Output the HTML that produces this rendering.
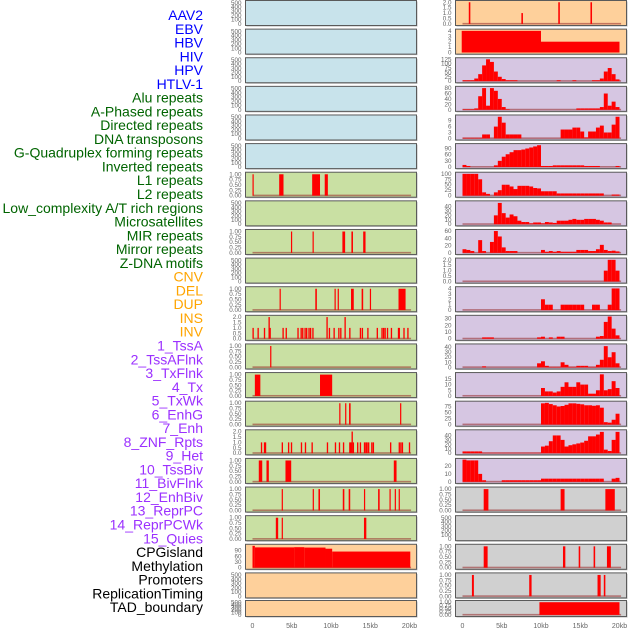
<!DOCTYPE html>
<html><head><meta charset="utf-8">
<style>
html,body{margin:0;padding:0;background:#fff;width:630px;height:630px;overflow:hidden}
svg{display:block;font-family:"Liberation Sans",sans-serif}
</style></head>
<body>
<svg id="chart" width="630" height="630" viewBox="0 0 630 630"></svg>
<script>
// ---------- Track labels ----------
const trackLabels = ["AAV2","EBV","HBV","HIV","HPV","HTLV-1","Alu repeats","A-Phased repeats","Directed repeats","DNA transposons","G-Quadruplex forming repeats","Inverted repeats","L1 repeats","L2 repeats","Low_complexity A/T rich regions","Microsatellites","MIR repeats","Mirror repeats","Z-DNA motifs","CNV","DEL","DUP","INS","INV","1_TssA","2_TssAFlnk","3_TxFlnk","4_Tx","5_TxWk","6_EnhG","7_Enh","8_ZNF_Rpts","9_Het","10_TssBiv","11_BivFlnk","12_EnhBiv","13_ReprPC","14_ReprPCWk","15_Quies","CPGisland","Methylation","Promoters","ReplicationTiming","TAD_boundary"];
const labelGroups = [6,13,5,15,5]; // blue, green, orange, purple, black
const groupColors = ["#0000ff","#006400","#ffa500","#9b30ff","#000000"];

// ---------- X axis ----------
const xTicks = [0,5,10,15,20];
const xTickLabels = ["0","5kb","10kb","15kb","20kb"];

// ---------- Tick label sets ----------
const ticksEmpty = ["0","100","200","300","400","500"];
const ticksBinary = ["0.00","0.25","0.50","0.75","1.00"];
const ticksTwo = ["0.0","0.5","1.0","1.5","2.0"];
const ticksFour = ["0","1","2","3","4"];

// ---------- Left column segment data [startKb, endKb, value] ----------
const leftL1 = [[0.0,0.15,1],[3.4,3.95,1],[7.6,8.6,1],[9.2,9.6,1]];
const leftRow8 = [[4.9,5.05,1],[7.65,7.8,1],[11.45,11.8,1],[12.6,12.8,1],[14.1,14.4,1]];
const leftRow10 = [[3.45,3.6,1],[8.0,8.2,1],[10.45,10.6,1],[10.85,11.0,1],[12.55,12.9,1],[13.9,14.1,1],[14.95,15.1,1],[18.6,19.5,1]];
const leftRow11Pos = [0.08,0.72,1.53,2.12,2.25,3.9,4.3,5.8,6.2,6.4,6.7,6.9,7.2,7.4,7.7,9.5,9.8,10.4,11.0,11.25,11.8,12.4,13.75,14.0,14.7,15.9,16.5,16.7,16.9,17.2,17.7,18.6,18.7,19.3,19.8];
const leftRow11Val = [1,1,1,2,1,1,1,1,1,1,1,1,1,1,1,2,1,1,1,1,2,1,1,1,1,1,1,1,1,1,1,1,1,1,1];
const leftRow12 = [[2.25,2.4,1]];
const leftRow13 = [[0.3,1.0,1],[8.6,10.15,1]];
const leftRow14 = [[11.05,11.2,1],[11.8,11.95,1],[12.3,12.5,1],[18.8,18.95,1]];
const leftRow15Pos = [1.15,1.53,1.66,3.8,4.6,4.97,6.24,6.75,7.6,9.55,10.57,11.08,11.6,12.4,12.55,12.7,12.85,13.4,13.75,14.27,14.45,14.6,14.8,15.2,15.4,17.6,18.7,18.9,19.1,20.0];
const leftRow15Val = [1,1,1,1,1,1,1,1,1,1,1,1,1,1,1,2,1,1,1,1,1,1,1,1,1,1,1,1,1,1];
const leftRow16 = [[0.8,1.24,1],[1.78,2.08,1],[4.2,4.93,1],[18.0,18.35,1]];
const leftRow17 = [[3.72,3.85,1],[7.67,7.8,1],[8.4,8.6,1],[11.5,11.7,1],[12.25,12.45,1],[14.2,14.35,1],[16.0,16.2,1],[17.45,17.6,1],[18.12,18.27,1],[18.62,18.77,1]];
const leftRow18 = [[2.97,3.27,1],[3.72,3.85,1],[14.2,14.5,1]];
const cpgSegments = [[0,0.3,115],[0.3,5.3,107],[5.3,6.6,108],[6.6,9.3,106],[9.3,10.15,100],[10.15,20.1,85]];

// ---------- Right column binned data (0.5kb bins from 0 to 20kb) ----------
const hivBins = [5,5,5,15,40,90,125,110,55,25,12,5,5,5,0,0,0,0,0,0,0,0,0,0,5,0,0,0,5,0,0,0,0,5,5,15,55,75,40,10];
const aluBins = [2,2,2,5,50,80,15,80,70,40,10,2,0,0,0,0,0,0,0,0,0,0,0,0,0,0,0,0,0,5,5,5,5,5,5,10,60,15,30,10];
const aphasedBins = [0.3,0.3,0.3,0.3,0.3,2,2,0,6,11,8,2,2,2,2,0,0,0,0,0,0,0,0,0,0,4.5,4.5,4.5,5.5,5.5,3.5,0.5,3.5,3.5,5.5,6.5,3,3,7,11];
const directedBins = [10,5,0,0,0,0,0,0,8,30,50,62,72,82,82,85,90,95,100,106,5,5,5,8,8,8,8,8,8,8,8,5,5,5,5,0,0,0,0,5];
const dnaBins = [100,100,100,100,75,15,8,0,15,25,50,50,42,30,45,45,45,42,35,33,20,20,20,20,10,10,10,10,10,10,10,10,10,10,10,10,0,0,5,5];
const gquadBins = [0,0,0,0,0,0,0,0,20,48,25,15,22,18,8,5,5,2,4,4,2,5,4,3,8,8,8,10,12,10,10,12,12,12,10,8,4,4,0,0];
const invertedBins = [10,8,5,0,35,5,0,30,60,45,15,5,5,5,0,0,0,0,0,0,8,3,5,3,5,3,3,3,3,8,8,8,5,5,10,22,8,5,6,4];
const l1Bins = [0,0,0,0,0,0,0,0,0,0,0,0,0,0,0,0,0,0,0,0,0,0,0,0,0,0,0,0,0,0,0,0,0,0,0,0,1,2,2,1];
const l2Bins = [0,0,0,0,0,0,0,0,0,0,0,0,0,0,0,0,0,0,0,0,2,1,1,0,0,1,1,1,1,1,1,0,0,1,1,0,0,1,4,4];
const lowBins = [0,0,0,0,0,2,2,2,0,0,0,0,0,0,0,0,0,0,0,2,3,0,2,0,3,3,0,0,0,0,0,0,0,0,3,4,25,33,15,5];
const microBins = [0,0,0,0,0,2,0,0,0,0,0,0,0,0,0,0,0,0,0,8,12,3,1,1,1,10,5,1,1,3,3,3,1,1,5,15,42,20,30,8];
const mirBins = [0,0,0,0,0,0,0,0,0,0,0,0,0,0,0,0,0,0,0,0,7,4,4,3,4,8,12,8,8,12,10,10,2,2,5,19,5,6,13,7];
const mirrorBins = [0,0,0,0,0,0,0,0,0,0,0,0,0,0,0,0,0,0,0,0,88,90,85,80,75,77,82,88,88,86,84,80,80,78,80,70,10,8,20,45];
const zdnaBins = [4,4,4,4,4,1,1,1,1,1,1,1,1,1,1,1,1,1,1,1,15,17,27,40,40,30,15,18,20,22,24,28,38,38,42,48,8,5,30,48];
const cnvBins = [28,27,27,27,10,2,0,0,0,0,2,2,2,2,2,2,2,2,2,2,4,4,4,4,4,4,4,4,4,4,4,4,4,4,4,4,0,0,4,5];

// ---------- Right column segment data ----------
const aav2Pos = [0.9,7.6,12.3,16.4];
const aav2Val = [2,1,2,2];
const ebvSegments = [[-0.1,10.0,4],[10.0,20.0,2]];
const rightRow17 = [[2.7,3.3,1],[12.5,13.0,1],[18.2,19.4,1]];
const rightRow19 = [[2.7,3.2,1],[12.8,13.1,1],[14.8,15.0,1],[16.7,16.9,1],[18.4,18.9,1]];
const rightRow20 = [[1.2,1.45,1],[8.5,8.8,1],[17.2,17.6,1],[18.0,18.2,1]];
const tadSegments = [[9.8,20.0,1]];

// ---------- Layout ----------
const BLUE="#c8e3eb", GREEN="#c9e0a3", ORANGE="#fed09b", PURPLE="#d6c6e2", GRAY="#d0d0d0";
const svg = document.getElementById('chart');
const NS = "http://www.w3.org/2000/svg";
function mk(tag, attrs){const e=document.createElementNS(NS,tag);for(const k in attrs)e.setAttribute(k,attrs[k]);return e;}

function rowTop(i){return i<21?0.5+28.62*i:600.5;}
function rowH(i){return i<21?25:16;}
const colX=[245.5,455.5], colW=171;
function xScale(col,kb){return colX[col]+7+kb*7.85;}
function yScale(row,max,v){const t=rowTop(row)+1.2,b=rowTop(row)+rowH(row)-1.6;return b-(v/max)*(b-t);}

function pointsToSeg(pos,val,w){return pos.map((p,i)=>[p-w/2,p+w/2,val[i]]);}
function binsToSeg(bins){return bins.map((v,i)=>[i*0.5,i*0.5+0.5,v]);}

const panels = [
 // left column
 {c:0,r:0,bg:BLUE,t:ticksEmpty,max:525,name:"aav2-left"},
 {c:0,r:1,bg:BLUE,t:ticksEmpty,max:525,name:"ebv-left"},
 {c:0,r:2,bg:BLUE,t:ticksEmpty,max:525,name:"hbv-left"},
 {c:0,r:3,bg:BLUE,t:ticksEmpty,max:525,name:"hiv-left"},
 {c:0,r:4,bg:BLUE,t:ticksEmpty,max:525,name:"hpv-left"},
 {c:0,r:5,bg:BLUE,t:ticksEmpty,max:525,name:"htlv-left"},
 {c:0,r:6,bg:GREEN,t:ticksBinary,max:1.04,seg:leftL1,name:"alu-left"},
 {c:0,r:7,bg:GREEN,t:ticksEmpty,max:525,name:"aphased-left"},
 {c:0,r:8,bg:GREEN,t:ticksBinary,max:1.04,seg:leftRow8,name:"directed-left"},
 {c:0,r:9,bg:GREEN,t:ticksEmpty,max:525,name:"dna-left"},
 {c:0,r:10,bg:GREEN,t:ticksBinary,max:1.04,seg:leftRow10,name:"gquad-left"},
 {c:0,r:11,bg:GREEN,t:ticksTwo,max:2.05,seg:pointsToSeg(leftRow11Pos,leftRow11Val,0.17),name:"inverted-left"},
 {c:0,r:12,bg:GREEN,t:ticksBinary,max:1.04,seg:leftRow12,name:"l1-left"},
 {c:0,r:13,bg:GREEN,t:ticksBinary,max:1.04,seg:leftRow13,name:"l2-left"},
 {c:0,r:14,bg:GREEN,t:ticksBinary,max:1.04,seg:leftRow14,name:"lowcomplex-left"},
 {c:0,r:15,bg:GREEN,t:ticksTwo,max:2.05,seg:pointsToSeg(leftRow15Pos,leftRow15Val,0.17),name:"microsat-left"},
 {c:0,r:16,bg:GREEN,t:ticksBinary,max:1.04,seg:leftRow16,name:"mir-left"},
 {c:0,r:17,bg:GREEN,t:ticksBinary,max:1.04,seg:leftRow17,name:"mirror-left"},
 {c:0,r:18,bg:GREEN,t:ticksBinary,max:1.04,seg:leftRow18,name:"zdna-left"},
 {c:0,r:19,bg:ORANGE,t:["0","30","60","90"],max:117,seg:cpgSegments,name:"cpg-left"},
 {c:0,r:20,bg:ORANGE,t:ticksEmpty,max:525,name:"methylation-left"},
 {c:0,r:21,bg:ORANGE,t:ticksEmpty,max:525,name:"promoters-left"},
 // right column
 {c:1,r:0,bg:ORANGE,t:ticksTwo,max:2.05,seg:pointsToSeg(aav2Pos,aav2Val,0.2),name:"aav2-right"},
 {c:1,r:1,bg:ORANGE,t:ticksFour,max:4.1,seg:ebvSegments,nobase:true,name:"ebv-right"},
 {c:1,r:2,bg:PURPLE,t:["0","25","50","75","100","125"],max:127,seg:binsToSeg(hivBins),name:"hiv-right"},
 {c:1,r:3,bg:PURPLE,t:["0","20","40","60","80"],max:82,seg:binsToSeg(aluBins),name:"alu-right"},
 {c:1,r:4,bg:PURPLE,t:["0","3","6","9"],max:11.3,seg:binsToSeg(aphasedBins),name:"aphased-right"},
 {c:1,r:5,bg:PURPLE,t:["0","30","60","90"],max:108,seg:binsToSeg(directedBins),name:"directed-right"},
 {c:1,r:6,bg:PURPLE,t:["0","25","50","75","100"],max:102,seg:binsToSeg(dnaBins),name:"dna-right"},
 {c:1,r:7,bg:PURPLE,t:["0","10","20","30","40"],max:50,seg:binsToSeg(gquadBins),name:"gquad-right"},
 {c:1,r:8,bg:PURPLE,t:["0","20","40","60"],max:61,seg:binsToSeg(invertedBins),name:"inverted-right"},
 {c:1,r:9,bg:PURPLE,t:ticksTwo,max:2.05,seg:binsToSeg(l1Bins),name:"l1-right"},
 {c:1,r:10,bg:PURPLE,t:ticksFour,max:4.1,seg:binsToSeg(l2Bins),name:"l2-right"},
 {c:1,r:11,bg:PURPLE,t:["0","10","20","30"],max:33,seg:binsToSeg(lowBins),name:"lowcomplex-right"},
 {c:1,r:12,bg:PURPLE,t:["0","10","20","30","40"],max:44,seg:binsToSeg(microBins),name:"microsat-right"},
 {c:1,r:13,bg:PURPLE,t:["0","5","10","15"],max:19.5,seg:binsToSeg(mirBins),name:"mir-right"},
 {c:1,r:14,bg:PURPLE,t:["0","25","50","75"],max:92,seg:binsToSeg(mirrorBins),name:"mirror-right"},
 {c:1,r:15,bg:PURPLE,t:["0","10","20","30","40"],max:50,seg:binsToSeg(zdnaBins),name:"zdna-right"},
 {c:1,r:16,bg:PURPLE,t:["0","10","20"],max:28,seg:binsToSeg(cnvBins),name:"cnv-right"},
 {c:1,r:17,bg:GRAY,t:ticksBinary,max:1.04,seg:rightRow17,name:"del-right"},
 {c:1,r:18,bg:GRAY,t:ticksEmpty,max:525,name:"dup-right"},
 {c:1,r:19,bg:GRAY,t:ticksBinary,max:1.04,seg:rightRow19,name:"ins-right"},
 {c:1,r:20,bg:GRAY,t:ticksBinary,max:1.04,seg:rightRow20,name:"inv-right"},
 {c:1,r:21,bg:GRAY,t:ticksBinary,max:1.04,seg:tadSegments,name:"tad-right"}
];

// labels
let li=0;
labelGroups.forEach((n,g)=>{for(let k=0;k<n;k++){
  const t=mk('text',{x:203,y:15+li*13.77+5,'text-anchor':'end','font-size':'14',fill:groupColors[g]});
  t.textContent=trackLabels[li];
  
  
  svg.appendChild(t);li++;}});

panels.forEach(p=>{
  const g=mk('g',{});
  
  
  const x=colX[p.c],y=rowTop(p.r),h=rowH(p.r);
  g.appendChild(mk('rect',{x:x+1,y:y+1,width:colW,height:h,fill:'#b8b8b8'}));
  const bg=mk('rect',{x:x,y:y,width:colW,height:h,fill:p.bg});
  g.appendChild(bg);
  if(p.seg){
    if(!p.nobase){
      const b=mk('rect',{x:xScale(p.c,0),y:yScale(p.r,p.max,0)-1,width:xScale(p.c,20.2)-xScale(p.c,0),height:1.6,fill:'rgba(150,40,40,0.55)'});
      
      
      g.appendChild(b);
    }
    p.seg.forEach(s=>{
      if(s[2]<=0)return;
      const x0=xScale(p.c,s[0]),x1=xScale(p.c,s[1]);
      const yv=yScale(p.r,p.max,s[2]),y0=yScale(p.r,p.max,0);
      const r=mk('rect',{x:x0,y:yv,width:Math.max(1.2,x1-x0),height:y0-yv,fill:'#ff0000'});
      
      
      g.appendChild(r);
    });
  }
  g.appendChild(mk('rect',{x:x,y:y,width:colW,height:h,fill:'none',stroke:'#5a5a5a','stroke-width':1}));
  // y ticks
  p.t.forEach(lbl=>{
    const v=parseFloat(lbl);
    const ty=yScale(p.r,p.max,v);
    const t=mk('text',{x:x-4,y:ty+2,'text-anchor':'end','font-size':'6.3',fill:'#666'});
    t.textContent=lbl;
    
    
    g.appendChild(t);
  });
  svg.appendChild(g);
});

// x axes
[0,1].forEach(c=>{
  xTicks.forEach((v,i)=>{
    const t=mk('text',{x:xScale(c,v),y:628,'text-anchor':'middle','font-size':'7',fill:'#666'});
    t.textContent=xTickLabels[i];
    
    
    svg.appendChild(t);
  });
});
</script>
</body></html>
